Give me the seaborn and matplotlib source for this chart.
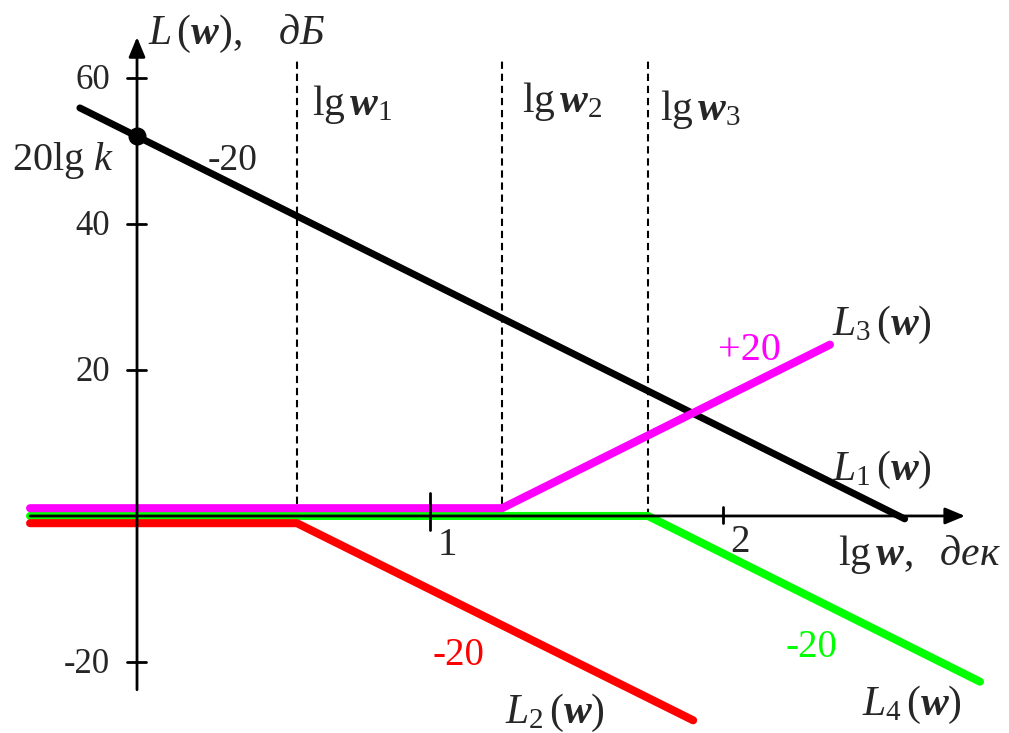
import matplotlib
matplotlib.use("Agg")
import matplotlib.pyplot as plt
import matplotlib.transforms as mtransforms
import seaborn as sns

# Break frequencies (lg w, decades) and low-frequency gain 20lg k (dB)
lg_w_breaks = [0.546, 1.246, 1.744]
gain_20lgk = 52.0

# Asymptotic log-magnitude characteristics: lg w (dec) and L (dB)
L1_lgw = [-0.195, 2.62]
L1_db = [55.9, -0.4]
L2_lgw = [-0.365, 0.546, 1.898]
L2_db = [0.0, 0.0, -27.0]
L3_lgw = [-0.365, 1.246, 2.365]
L3_db = [0.0, 0.0, 22.4]
L4_lgw = [-0.365, 1.744, 2.877]
L4_db = [0.0, 0.0, -22.7]

y_ticks = [60, 40, 20, -20]
y_tick_labels = ["60", "40", "20", "-20"]
x_ticks = [1, 2]
x_tick_labels = ["1", "2"]

sns.set_theme(style="white")
plt.rcParams["font.family"] = ["Liberation Serif", "DejaVu Serif"]
plt.rcParams["mathtext.fontset"] = "custom"
plt.rcParams["mathtext.rm"] = "Liberation Serif"
plt.rcParams["mathtext.it"] = "Liberation Serif:italic"
plt.rcParams["mathtext.bf"] = "Liberation Serif:bold"
plt.rcParams["mathtext.bfit"] = "Liberation Serif:italic:bold"

fig = plt.figure(figsize=(10.09, 7.33), dpi=100)
ax = fig.add_axes([0, 0, 1, 1])
ax.set_xlim(-0.4676, 2.976)
ax.set_ylim(-29.73, 70.68)
ax.axis("off")

MAGENTA = "#ff00ff"
GREEN = "#00ff00"
RED = "#ff0000"

# Coincident zero-dB segments are drawn side by side
up = mtransforms.offset_copy(ax.transData, fig=fig, x=0, y=5.6, units="points")
down = mtransforms.offset_copy(ax.transData, fig=fig, x=0, y=-5.2, units="points")

line_kw = dict(lw=5.8, solid_capstyle="round", solid_joinstyle="round", legend=False)
sns.lineplot(x=L1_lgw, y=L1_db, color="black", ax=ax, zorder=3,
             lw=5.0, solid_capstyle="round", legend=False)
sns.lineplot(x=L4_lgw, y=L4_db, color=GREEN, ax=ax, zorder=4, **line_kw)
sns.lineplot(x=L2_lgw, y=L2_db, color=RED, ax=ax, zorder=4, transform=down, **line_kw)
sns.lineplot(x=L3_lgw, y=L3_db, color=MAGENTA, ax=ax, zorder=4.5, transform=up, **line_kw)

# Break-frequency guides
for xb in lg_w_breaks:
    ax.plot([xb, xb], [0, 62.7], color="black", lw=1.5,
            linestyle=(0, (3.5, 2.3)), zorder=2)

# Coordinate axes with arrow heads
arrow = dict(arrowstyle="-|>,head_length=0.6,head_width=0.25", lw=2.0,
             color="black", mutation_scale=20, shrinkA=0, shrinkB=0)
ax.annotate("", xy=(2.826, 0), xytext=(-0.365, 0), arrowprops=arrow, zorder=5)
ax.annotate("", xy=(0, 65.6), xytext=(0, -23.8), arrowprops=arrow, zorder=5)

# Tick marks
for yt in y_ticks:
    ax.plot([-0.034, 0.031], [yt, yt], color="black", lw=2.0, zorder=5)
ax.plot([x_ticks[0]] * 2, [3.15, -1.9], color="black", lw=2.0, zorder=5)
ax.plot([x_ticks[1]] * 2, [1.2, -1.0], color="black", lw=2.0, zorder=5)

for yt, lab in zip(y_ticks, y_tick_labels):
    ax.text(-0.092, yt - 1.5, lab, ha="right", va="baseline", fontsize=25)
ax.text(1.058, -5.3, x_tick_labels[0], ha="center", va="baseline", fontsize=28)
ax.text(2.058, -4.9, x_tick_labels[1], ha="center", va="baseline", fontsize=28)

# Point 20lg k on the ordinate
ax.plot([0], [gain_20lgk], marker="o", ms=12, color="black", zorder=6)

# Labels
ax.text(0.038, 64.6, r"$L\,(\mathbfit{w}),\ \ \ \mathit{дБ}$", ha="left", va="baseline", fontsize=30)
ax.text(2.392, -6.7, r"$\mathrm{lg}\,\mathbfit{w},\ \ \mathit{дек}$", ha="left", va="baseline", fontsize=30)
ax.text(-0.427, 47.4, r"$\mathrm{20lg}\ k$", ha="left", va="baseline", fontsize=29)
ax.text(0.242, 47.4, "-20", ha="left", va="baseline", fontsize=27)
ax.text(0.597, 54.9, r"$\mathrm{lg}\,\mathbfit{w}_1$", ha="left", va="baseline", fontsize=30)
ax.text(1.314, 55.3, r"$\mathrm{lg}\,\mathbfit{w}_2$", ha="left", va="baseline", fontsize=30)
ax.text(1.785, 54.3, r"$\mathrm{lg}\,\mathbfit{w}_3$", ha="left", va="baseline", fontsize=30)

ax.text(1.983, 21.4, "+20", color=MAGENTA, ha="left", va="baseline", fontsize=29)
ax.text(1.010, -20.4, "-20", color=RED, ha="left", va="baseline", fontsize=28)
ax.text(2.212, -19.3, "-20", color=GREEN, ha="left", va="baseline", fontsize=28)

ax.text(2.372, 24.8, r"$L_3\,(\mathbfit{w})$", ha="left", va="baseline", fontsize=30)
ax.text(2.372, 4.9, r"$L_1\,(\mathbfit{w})$", ha="left", va="baseline", fontsize=30)
ax.text(1.256, -28.4, r"$L_2\,(\mathbfit{w})$", ha="left", va="baseline", fontsize=30)
ax.text(2.474, -27.3, r"$L_4\,(\mathbfit{w})$", ha="left", va="baseline", fontsize=30)

fig.savefig("out.png", dpi=100, facecolor="white")
